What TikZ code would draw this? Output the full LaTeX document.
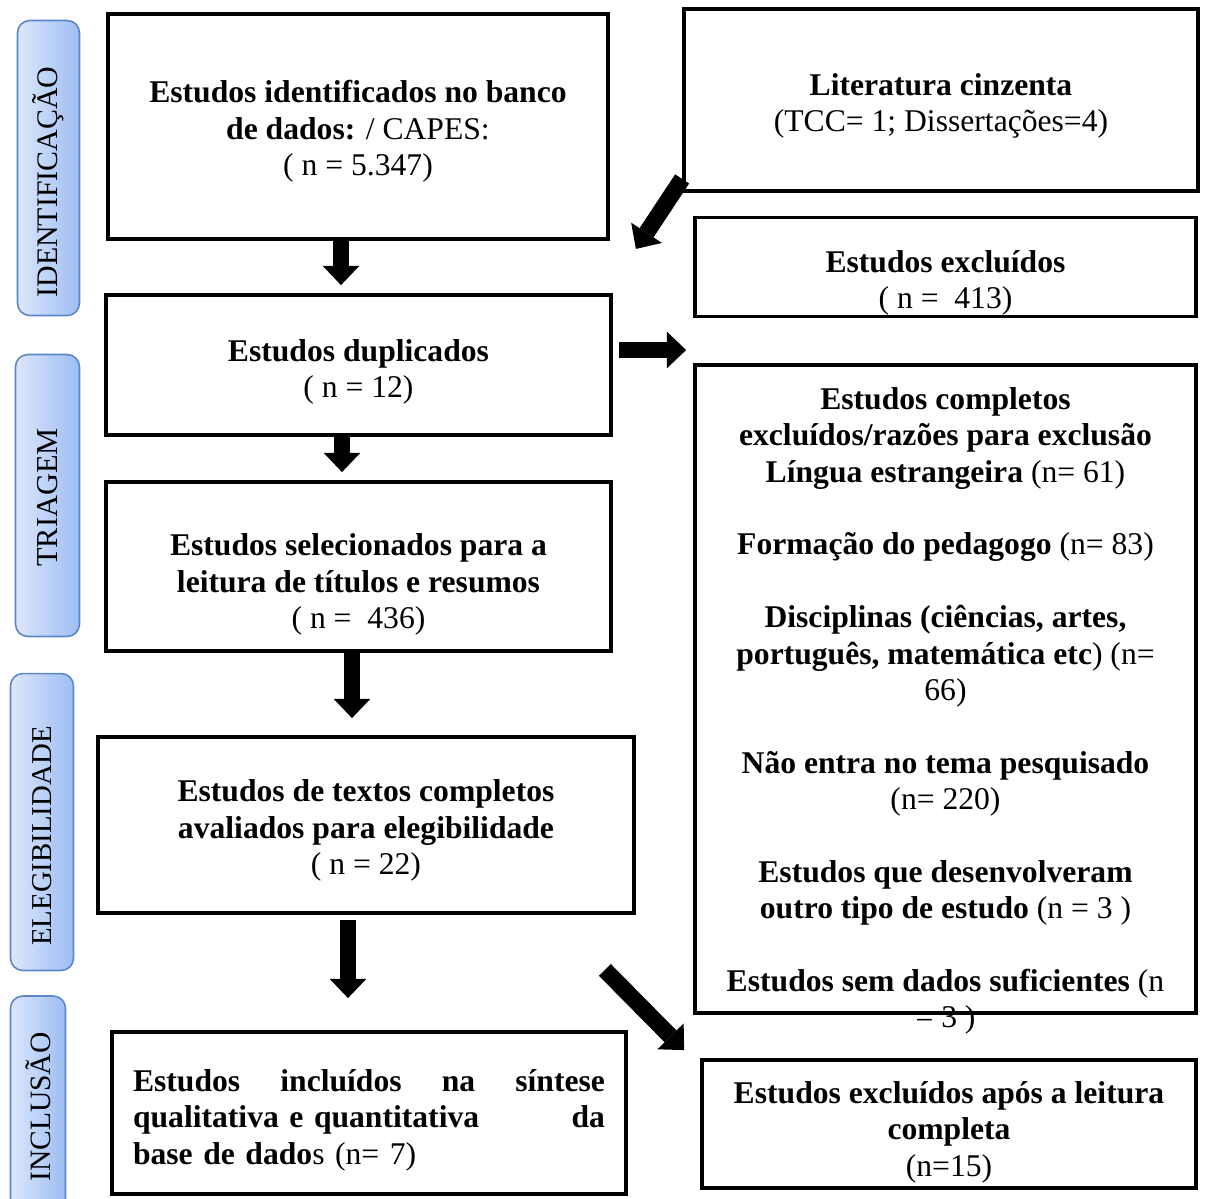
\documentclass[tikz,border=0pt]{standalone}
\usepackage{fontspec}
\setmainfont{Liberation Serif}
\usetikzlibrary{arrows.meta,positioning,calc}
\definecolor{labL}{HTML}{DCE7FB}
\definecolor{labR}{HTML}{9DBDF3}
\definecolor{labD}{HTML}{5B87C8}

\begin{document}
\begin{tikzpicture}[
  x=0.02cm, y=-0.02cm,
  font=\fontsize{18}{20.7}\selectfont,
  box/.style={draw, line width=2.2pt, inner sep=0pt},
  txt/.style={align=center, inner sep=0pt},
  phase/.style={
    draw=labD, line width=0.9pt, rounded corners=7pt,
    left color=labL, right color=labR, inner sep=0pt
  },
  phtxt/.style={rotate=90, inner sep=0pt},
  bigarrow/.style={line width=9.5pt,
    -{Triangle[length=11pt, width=21pt, line width=0pt]}},
]
\useasboundingbox (0,0) rectangle (1208,1198);

% ---- phases on the left ------------------------------------------------
\node[phase, minimum width=1.24cm, minimum height=5.9cm] (idlab) at (48.5,168) {};
\node[phtxt, font=\fontsize{17}{19}\selectfont] (idtxt) at (48.5,182)
  {IDENTIFICAÇÃO};
\node[phase, minimum width=1.28cm, minimum height=5.64cm] (trilab) at (47.5,495.5) {};
\node[phtxt, font=\fontsize{17.3}{19}\selectfont] (tritxt) at (47.5,497.5)
  {TRIAGEM};
\node[phase, minimum width=1.26cm, minimum height=5.94cm] (elelab) at (42,822) {};
\node[phtxt, font=\fontsize{16.4}{19}\selectfont] (eletxt) at (42,836)
  {ELEGIBILIDADE};
\node[phase, minimum width=1.10cm, minimum height=4.4cm] (inclab) at (38,1106) {};
\node[phtxt, font=\fontsize{16.8}{19}\selectfont] (inctxtl) at (38,1107)
  {INCLUSÃO};

% ---- left column -------------------------------------------------------
\node[box, minimum width=10.0cm, minimum height=4.5cm] (idbox) at (358,126.5) {};
\node[txt] (idtxtb) at (358,131.5)
  {\textbf{Estudos identificados no banco}\\
   \textbf{de dados:} / CAPES:\\
   ( n = 5.347)};
\node[box, minimum width=10.1cm, minimum height=2.8cm] (dupbox) at (358.5,365) {};
\node[txt] (duptxt) at (358.5,372)
  {\textbf{Estudos duplicados}\\ ( n = 12)};
\node[box, minimum width=10.1cm, minimum height=3.38cm] (selbox) at (358.5,566.5) {};
\node[txt] (seltxt) at (358.5,584.5)
  {\textbf{Estudos selecionados para a}\\
   \textbf{leitura de títulos e resumos}\\
   ( n =\ \ 436)};
\node[box, minimum width=10.72cm, minimum height=3.52cm] (evalbox) at (366,825) {};
\node[txt] (evaltxt) at (366,830.5)
  {\textbf{Estudos de textos completos}\\
   \textbf{avaliados para elegibilidade}\\
   ( n = 22)};
\node[box, minimum width=10.28cm, minimum height=3.24cm] (incbox) at (369,1113) {};
\node[txt, text width=9.44cm, align=left] (inctxt) at (369,1120)
  {\textbf{Estudos\hfill incluídos\hfill na\hfill síntese}\\
   \textbf{qualitativa e quantitativa\hfill da}\\
   \textbf{base de dado}s (n= 7)};

% ---- right column ------------------------------------------------------
\node[box, minimum width=10.28cm, minimum height=3.64cm] (litbox) at (941,100) {};
\node[txt] (littxt) at (941,106)
  {\textbf{Literatura cinzenta}\\ (TCC= 1; Dissertações=4)};
\node[box, minimum width=10.02cm, minimum height=1.98cm] (exclbox) at (945.5,267) {};
\node[txt] (excltxt) at (945.5,283)
  {\textbf{Estudos excluídos}\\ ( n =\ \ 413)};
\node[box, minimum width=10.02cm, minimum height=12.96cm] (fullbox) at (945.5,689) {};
\node[txt] (fulltxt) at (945.5,711)
  {\textbf{Estudos completos}\\
   \textbf{excluídos/razões para exclusão}\\
   \textbf{Língua estrangeira} (n= 61)\\[20.7pt]
   \textbf{Formação do pedagogo} (n= 83)\\[20.7pt]
   \textbf{Disciplinas (ciências, artes,}\\
   \textbf{português, matemática etc}) (n=\\
   66)\\[20.7pt]
   \textbf{Não entra no tema pesquisado}\\
   (n= 220)\\[20.7pt]
   \textbf{Estudos que desenvolveram}\\
   \textbf{outro tipo de estudo} (n = 3 )\\[20.7pt]
   \textbf{Estudos sem dados suficientes} (n\\
   = 3 )};
\node[box, minimum width=9.88cm, minimum height=2.56cm] (afterbox) at (949,1124) {};
\node[txt] (aftertxt) at (949,1132)
  {\textbf{Estudos excluídos após a leitura}\\
   \textbf{completa}\\
   (n=15)};

% ---- arrows ------------------------------------------------------------
\coordinate (a1) at ([xshift=-0.34cm]idbox.south);
\coordinate (a2) at ([xshift=-0.33cm]dupbox.south);
\coordinate (a3) at ([xshift=-0.13cm]selbox.south);
\coordinate (a4) at ([xshift=-0.36cm, yshift=-0.1cm]evalbox.south);
\coordinate (a5) at ([xshift=0.12cm, yshift=0.3cm]dupbox.east);

\draw[bigarrow, shorten >=0.16cm] (a1) -- (a1 |- dupbox.north);
\draw[bigarrow, shorten >=0.16cm] (a2) -- (a2 |- selbox.north);
\draw[bigarrow, shorten >=0.34cm] (a3) -- (a3 |- evalbox.north);
\draw[bigarrow, shorten >=0.64cm] (a4) -- (a4 |- incbox.north);
\draw[bigarrow, shorten >=0.14cm] (a5) -- (a5 -| exclbox.west);
\draw[bigarrow] ([yshift=0.28cm]litbox.south west)
  -- ([xshift=0.52cm, yshift=-0.16cm]idbox.south east);
\draw[bigarrow] ([xshift=-0.62cm, yshift=-1.1cm]evalbox.south east)
  -- ([xshift=-0.32cm, yshift=0.16cm]afterbox.north west);

\end{tikzpicture}
\end{document}
